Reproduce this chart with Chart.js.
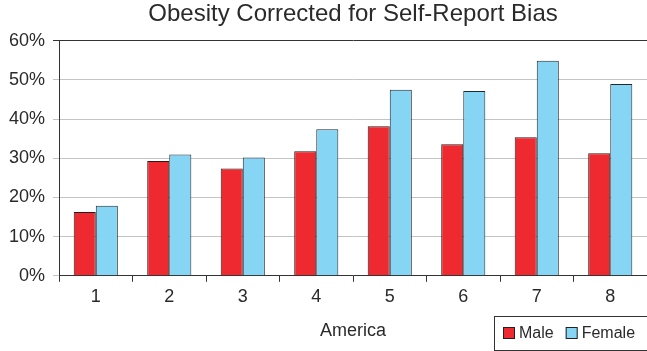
<!DOCTYPE html>
<html>
<head>
<meta charset="utf-8">
<style>
  html, body { margin: 0; padding: 0; background: #fff; }
  #wrap { width: 647px; height: 351px; position: relative; }
</style>
<script src="https://cdn.jsdelivr.net/npm/chart.js@4/dist/chart.umd.min.js"></script>
</head>
<body>
<div id="wrap"><canvas id="chart" width="647" height="351"></canvas></div>
<script>
// Obesity rates (%) by region group, corrected for self-report bias
const categories = ['1', '2', '3', '4', '5', '6', '7', '8'];
const maleValues = [16.3, 29.3, 27.4, 31.8, 38.2, 33.6, 35.4, 31.3];
const femaleValues = [17.9, 31.0, 30.2, 37.4, 47.5, 47.2, 54.9, 49.0];
const yTicks = [0, 10, 20, 30, 40, 50, 60];

const FONT = '"Liberation Sans", Arial, sans-serif';
const TEXT = '#2a2a2a';

// Boxed legend drawn in the bottom-right corner, beside the axis title
const boxLegend = {
  id: 'boxLegend',
  afterDraw(chart) {
    const ctx = chart.ctx;
    const x0 = 494.5, y0 = 316.5, w = 160, h = 34;
    ctx.save();
    ctx.strokeStyle = '#333';
    ctx.lineWidth = 1;
    ctx.strokeRect(x0, y0, w, h);
    ctx.font = '16px ' + FONT;
    ctx.textBaseline = 'middle';
    ctx.textAlign = 'left';
    let x = 503;
    const cy = 333;
    chart.data.datasets.forEach(ds => {
      ctx.fillStyle = ds.backgroundColor;
      ctx.fillRect(x, cy - 6, 12, 12);
      ctx.strokeStyle = '#222';
      ctx.strokeRect(x + 0.5, cy - 5.5, 11, 11);
      ctx.fillStyle = TEXT;
      ctx.fillText(ds.label, x + 16, cy + 1);
      x += 16 + ctx.measureText(ds.label).width + 12;
    });
    ctx.restore();
  }
};

new Chart(document.getElementById('chart'), {
  type: 'bar',
  data: {
    labels: categories,
    datasets: [
      {
        label: 'Male',
        data: maleValues,
        backgroundColor: '#ee2a30',
        borderColor: '#2a1a1a',
        borderWidth: 1,
        borderSkipped: 'bottom'
      },
      {
        label: 'Female',
        data: femaleValues,
        backgroundColor: '#87d5f5',
        borderColor: '#1f2a30',
        borderWidth: 1,
        borderSkipped: 'bottom'
      }
    ]
  },
  options: {
    responsive: false,
    animation: false,
    devicePixelRatio: 1,
    layout: { padding: { left: 1, right: 0, top: 0, bottom: 9 } },
    datasets: { bar: { categoryPercentage: 0.6, barPercentage: 1.0 } },
    plugins: {
      legend: { display: false },
      tooltip: { enabled: false },
      title: {
        display: true,
        fullSize: false,
        text: 'Obesity Corrected for Self-Report Bias',
        color: TEXT,
        font: { family: FONT, size: 24, weight: 'normal' },
        padding: { top: 0, bottom: 12 }
      }
    },
    scales: {
      x: {
        grid: {
          display: true,
          drawOnChartArea: false,
          drawTicks: true,
          tickLength: 6,
          color: '#333'
        },
        border: { display: true, color: '#333', width: 1 },
        ticks: {
          color: TEXT,
          padding: 4,
          font: { family: FONT, size: 18 }
        },
        title: {
          display: true,
          text: 'America',
          color: TEXT,
          font: { family: FONT, size: 18 },
          padding: { top: 9, bottom: 0 }
        }
      },
      y: {
        min: 0,
        max: 60,
        afterBuildTicks(axis) {
          axis.ticks = yTicks.map(v => ({ value: v }));
        },
        grid: {
          tickLength: 6,
          color: ctx => (ctx.tick && ctx.tick.value === 60) ? '#333' : '#c4c4c4',
          lineWidth: 1
        },
        border: { display: true, color: '#333', width: 1 },
        ticks: {
          color: TEXT,
          padding: 8,
          font: { family: FONT, size: 18 },
          callback: v => v + '%'
        }
      }
    }
  },
  plugins: [boxLegend]
});
</script>
</body>
</html>
